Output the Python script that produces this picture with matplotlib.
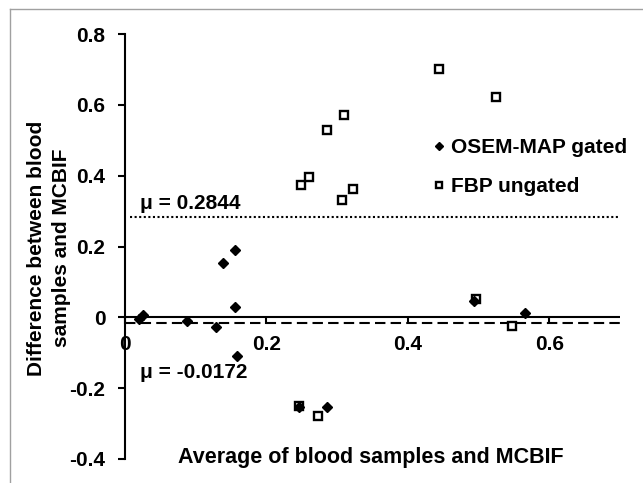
import numpy as np
import matplotlib.pyplot as plt
from matplotlib.lines import Line2D

plt.rcParams['font.family'] = ['Liberation Sans', 'DejaVu Sans']
plt.rcParams['font.weight'] = 'bold'

# OSEM-MAP gated (filled diamonds)
osem_x = [0.020, 0.026, 0.088, 0.128, 0.139, 0.155, 0.156, 0.159, 0.246, 0.285, 0.493, 0.566]
osem_y = [-0.004, 0.008, -0.011, -0.027, 0.154, 0.189, 0.028, -0.109, -0.254, -0.253, 0.046, 0.012]

# FBP ungated (open squares)
fbp_x = [0.249, 0.260, 0.286, 0.309, 0.307, 0.323, 0.444, 0.524, 0.246, 0.273, 0.496, 0.547]
fbp_y = [0.375, 0.397, 0.529, 0.571, 0.330, 0.361, 0.702, 0.621, -0.251, -0.279, 0.053, -0.024]

mean_fbp = 0.2844
mean_osem = -0.0172

FS = 15

fig = plt.figure(figsize=(6.43, 4.83), dpi=100)
ax = fig.add_axes([125/643, 24/483, 495/643, 425/483])

ax.axhline(0, color='black', lw=1.5, zorder=1)
ax.plot([0, 0.7], [mean_osem, mean_osem], color='black', lw=1.5, ls=(0, (5, 2.5)), zorder=1)
ax.plot([0.007, 0.7], [mean_fbp, mean_fbp], color='black', lw=1.5, ls=(0, (1, 1.2)), zorder=1)

ax.plot(fbp_x, fbp_y, ls='none', marker='s', ms=5.2, mfc='white', mec='black', mew=1.7,
        label='FBP ungated', zorder=3)
ax.plot(osem_x, osem_y, ls='none', marker='D', ms=4.8, mfc='black', mec='black',
        label='OSEM-MAP gated', zorder=4)

ax.text(0.021, 0.321, 'μ = 0.2844', fontsize=FS, fontweight='bold', va='center', ha='left')
ax.text(0.021, -0.155, 'μ = -0.0172', fontsize=FS, fontweight='bold', va='center', ha='left')

ax.set_xlim(0, 0.7)
ax.set_ylim(-0.4, 0.8)
ax.set_xticks([0, 0.2, 0.4, 0.6])
ax.set_xticklabels(['0', '0.2', '0.4', '0.6'])
ax.set_yticks([-0.4, -0.2, 0, 0.2, 0.4, 0.6, 0.8])
ax.set_yticklabels(['-0.4', '-0.2', '0', '0.2', '0.4', '0.6', '0.8'])

for s in ['top', 'right']:
    ax.spines[s].set_visible(False)
ax.spines['bottom'].set_position(('data', 0))
ax.spines['bottom'].set_visible(False)
ax.spines['left'].set_linewidth(1.5)
ax.tick_params(axis='y', direction='out', length=5, width=1.5, labelsize=FS, pad=9)
ax.tick_params(axis='x', direction='out', length=5, width=1.5, labelsize=FS, pad=8)

handles, labels = ax.get_legend_handles_labels()
leg = ax.legend(handles[::-1], labels[::-1], loc='upper left',
                bbox_to_anchor=(423/643, 1 - 128/483), bbox_transform=fig.transFigure,
                frameon=False, borderpad=0, handlelength=0.5, handletextpad=0.35,
                labelspacing=0.95, markerscale=0.8, prop={'size': FS, 'weight': 'bold'})

fig.text(49/643, 1 - 248/483, 'Difference between blood\nsamples and MCBIF', rotation=90,
         ha='center', va='center', fontsize=FS, fontweight='bold', linespacing=1.35)
fig.text(371/643, 1 - 458/483, 'Average of blood samples and MCBIF',
         ha='center', va='center', fontsize=15.5, fontweight='bold')

# gray frame on top and left
fig.add_artist(Line2D([10/643, 1], [1 - 9/483, 1 - 9/483], color='#a0a0a0', lw=1,
                      transform=fig.transFigure))
fig.add_artist(Line2D([10/643, 10/643], [0, 1 - 9/483], color='#a0a0a0', lw=1,
                      transform=fig.transFigure))

fig.savefig('out.png', dpi=100)
